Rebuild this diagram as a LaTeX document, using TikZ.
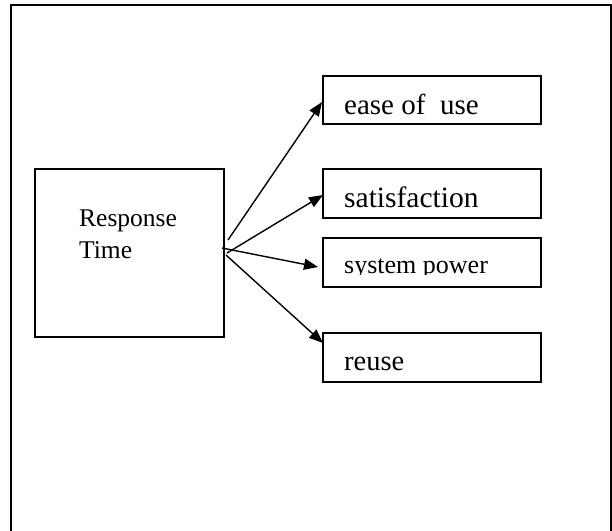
\documentclass[tikz,border=0pt]{standalone}
\usepackage{fontspec}
\setmainfont{Liberation Serif}
\usetikzlibrary{arrows.meta,calc}
\begin{document}
\begin{tikzpicture}[x=1pt,y=1pt,
  boxstyle/.style={draw,line width=1.7pt,inner sep=0pt,outer sep=0pt,minimum width=218pt},
  lbl/.style={anchor=base west,inner sep=0pt},
  conn/.style={line width=1.4pt,-{Triangle[length=14pt,width=11pt]}}]
\useasboundingbox (0,0) rectangle (612,-530);
\clip (0,0) rectangle (612,-530);
\fill[white] (0,0) rectangle (612,-530);
% outer frame
\draw[line width=1.9pt] (11,-5) rectangle (611,-560);
% left box
\node[boxstyle,minimum width=189pt,minimum height=168pt] (rt) at (129.5,-253) {};
\node[lbl,font=\fontsize{25.5}{32}\selectfont] (rtl1) at (79,-226) {Response};
\node[lbl,font=\fontsize{25.5}{32}\selectfont] (rtl2) at (79,-258) {Time};
% right boxes
\node[boxstyle,minimum height=48pt] (e) at (432,-100) {};
\node[boxstyle,minimum height=49pt] (s) at (432,-193.5) {};
\node[boxstyle,minimum height=49pt] (p) at (432,-262.5) {};
\node[boxstyle,minimum height=49pt] (r) at (432,-357.5) {};
\node[lbl,font=\fontsize{29}{34}\selectfont] (el) at (344,-114) {ease of\ \ use};
\node[lbl,font=\fontsize{29.5}{34}\selectfont] (sl) at (344,-207) {satisfaction};
\begin{scope}
\clip (323,-238) rectangle (541,-274.5);
\node[lbl,font=\fontsize{26}{30}\selectfont] (pl) at (344,-273) {system power};
\end{scope}
\node[lbl,font=\fontsize{28.5}{34}\selectfont] (rl) at (344,-370) {reuse};
% connector origins
\coordinate (o1) at ($(rt.east)+(4,13)$);
\coordinate (o2) at ($(rt.east)+(3,0)$);
\coordinate (o3) at ($(rt.east)+(-2,5)$);
\coordinate (o4) at ($(rt.east)+(2,-2)$);
\draw[conn] (o1) -- ($(e.west)+(-1,-2)$);
\draw[conn] (o2) -- ($(s.west)+(0,-1.5)$);
\draw[conn] (o3) -- ($(p.west)+(-5,-4.5)$);
\draw[conn] (o4) -- ($(r.north west)+(0,-10)$);
\end{tikzpicture}
\end{document}
